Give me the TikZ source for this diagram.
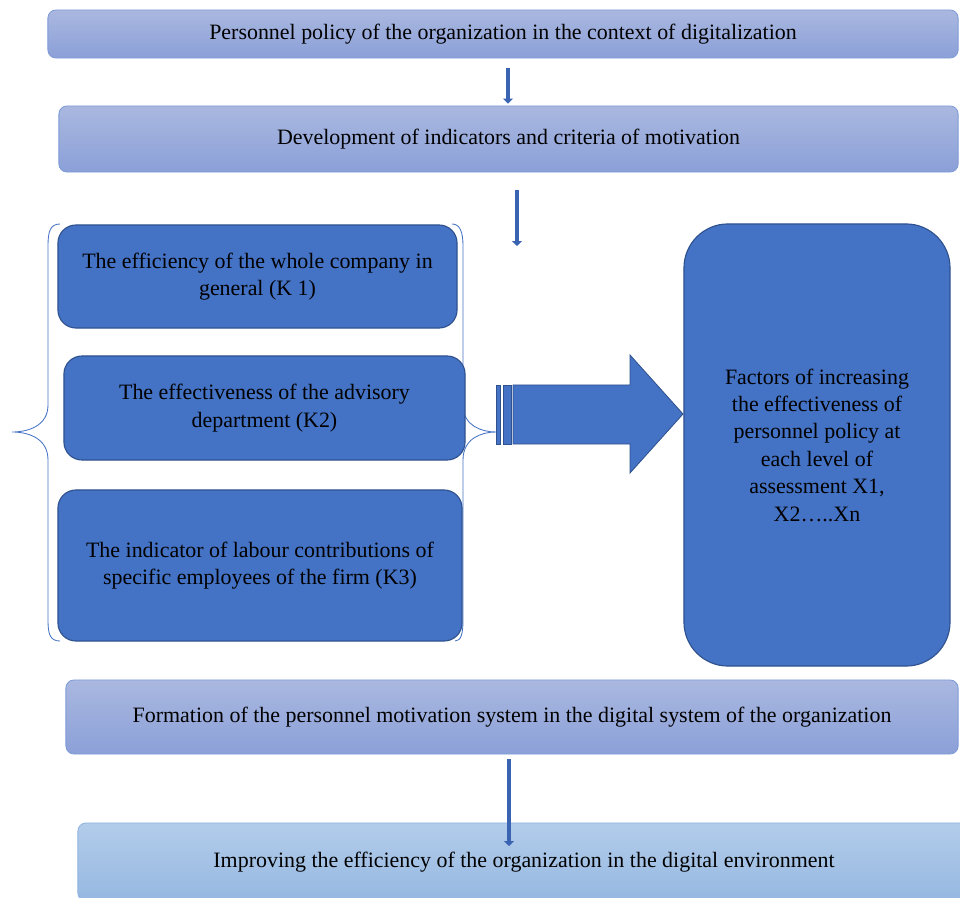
\documentclass[tikz,border=0pt]{standalone}
\usepackage{fontspec}
\setmainfont{Liberation Serif}
\usetikzlibrary{positioning,arrows.meta}
\definecolor{ppblue}{HTML}{4472C4}
\definecolor{ppdark}{HTML}{2F528F}
\definecolor{pparrow}{HTML}{3A64B2}
\definecolor{pptop}{HTML}{AAB8E0}
\definecolor{ppbot}{HTML}{8BA0D8}
\definecolor{ppedge}{HTML}{7E9BD6}
\definecolor{pplighttop}{HTML}{B3CCEA}
\definecolor{pplightbot}{HTML}{95B8E1}
\definecolor{pplightedge}{HTML}{8FB4E0}

\begin{document}
\begin{tikzpicture}[
  x=0.025cm, y=-0.025cm,
  every node/.style={font=\fontsize{15.6}{19.5}\selectfont, inner sep=0pt, align=center},
  band/.style={draw=ppedge, line width=0.6pt, rounded corners=0.2cm,
    top color=pptop, bottom color=ppbot},
  lightband/.style={band, draw=pplightedge, top color=pplighttop, bottom color=pplightbot},
  crit/.style={draw=ppdark, line width=0.8pt, fill=ppblue, rounded corners=0.45cm},
  flow/.style={draw=pparrow, line width=3pt, -{Triangle[width=7pt,length=3.5pt]}},
  brace/.style={draw=ppblue, line width=0.6pt},
  blockarrow/.style={draw=ppdark, fill=ppblue, line width=0.6pt}
]
\useasboundingbox (0,0) rectangle (960,898);
\clip (0,0) rectangle (960,898);

% brackets round the three criteria
\draw[brace] (60,224) .. controls (50,224) and (48,232) .. (48,246) -- (48,405)
  .. controls (48,426) and (28,432) .. (12,432)
  .. controls (28,432) and (48,438) .. (48,460) -- (48,620)
  .. controls (48,634) and (50,641) .. (60,641);
\draw[brace] (452,224) .. controls (460,224) and (463,232) .. (463,246) -- (463,405)
  .. controls (463,426) and (482,432) .. (496,432)
  .. controls (482,432) and (463,438) .. (463,460) -- (463,620)
  .. controls (463,634) and (461,641) .. (455,641);

% upper bands
\node[band, minimum width=22.75cm, minimum height=1.2cm] (policy) at (503,34)
  {Personnel policy of the organization in the context of digitalization};
\node[band, minimum width=22.475cm, minimum height=1.65cm] (develop) at (508.5,139)
  {Development of indicators and criteria of motivation};

% criteria K1, K2, K3
\node[crit, minimum width=9.975cm, minimum height=2.575cm] (k1) at (257.5,276.5)
  {The efficiency of the whole company in\\general (K 1)};
\node[crit, minimum width=10.025cm, minimum height=2.6cm] (k2) at (264.5,408)
  {The effectiveness of the advisory\\department (K2)};
\node[crit, minimum width=10.1cm, minimum height=3.775cm] (k3) at (260,565.5)
  {The indicator of labour contributions of\\specific employees of the firm (K3)};

% factors
\node[crit, rounded corners=1.1cm, minimum width=6.65cm, minimum height=11.05cm] (factors) at (817,445)
  {Factors of increasing\\the effectiveness of\\personnel policy at\\each level of\\assessment X1,\\X2…..Xn};

% striped block arrow
\filldraw[blockarrow] (496,385) rectangle (500,444);
\filldraw[blockarrow] (503,385) rectangle (511,444);
\filldraw[blockarrow] (513,385) -- (630,385) -- (630,355) -- (683,414)
  -- (630,473) -- (630,444) -- (513,444) -- cycle;

% lower bands
\node[band, minimum width=22.3cm, minimum height=1.85cm] (formation) at (512,717)
  {Formation of the personnel motivation system in the digital system of the organization};
\node[lightband, minimum width=22.3cm, minimum height=1.95cm] (improve) at (524,862)
  {Improving the efficiency of the organization in the digital environment};

% arrows
\coordinate (a1x) at (508,0);
\coordinate (a2end) at (517,246);
\coordinate (a3end) at (509,846);
\draw[flow, shorten <=0.25cm, shorten >=0.05cm] (policy.south -| a1x) -- (develop.north -| a1x);
\draw[flow, shorten <=0.45cm] (develop.south -| a2end) -- (a2end);
\draw[flow, shorten <=0.12cm] (formation.south -| a3end) -- (a3end);

\end{tikzpicture}
\end{document}
